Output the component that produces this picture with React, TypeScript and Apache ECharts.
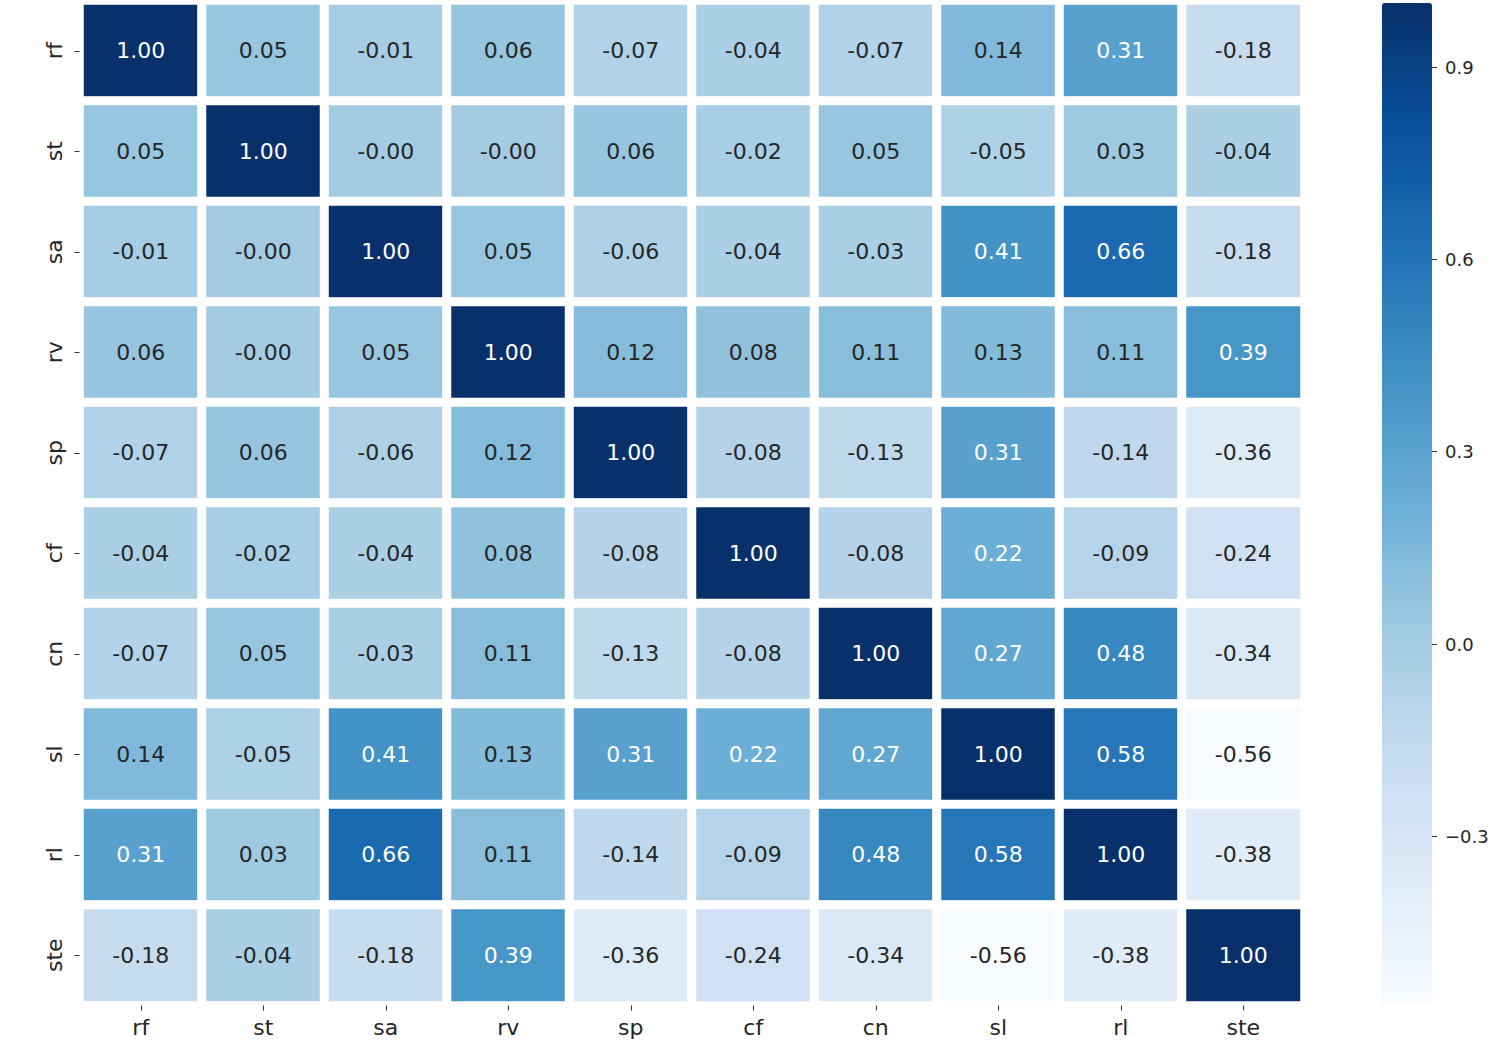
import React, { useEffect, useRef } from "react";
import * as echarts from "echarts";

// Variable names along both axes (top-to-bottom for rows, left-to-right for columns)
const variables = ["rf", "st", "sa", "rv", "sp", "cf", "cn", "sl", "rl", "ste"];

// Correlation matrix, one named row per variable (-0 keeps the "-0.00" sign)
const rowRf = [1.0, 0.05, -0.01, 0.06, -0.07, -0.04, -0.07, 0.14, 0.31, -0.18];
const rowSt = [0.05, 1.0, -0, -0, 0.06, -0.02, 0.05, -0.05, 0.03, -0.04];
const rowSa = [-0.01, -0, 1.0, 0.05, -0.06, -0.04, -0.03, 0.41, 0.66, -0.18];
const rowRv = [0.06, -0, 0.05, 1.0, 0.12, 0.08, 0.11, 0.13, 0.11, 0.39];
const rowSp = [-0.07, 0.06, -0.06, 0.12, 1.0, -0.08, -0.13, 0.31, -0.14, -0.36];
const rowCf = [-0.04, -0.02, -0.04, 0.08, -0.08, 1.0, -0.08, 0.22, -0.09, -0.24];
const rowCn = [-0.07, 0.05, -0.03, 0.11, -0.13, -0.08, 1.0, 0.27, 0.48, -0.34];
const rowSl = [0.14, -0.05, 0.41, 0.13, 0.31, 0.22, 0.27, 1.0, 0.58, -0.56];
const rowRl = [0.31, 0.03, 0.66, 0.11, -0.14, -0.09, 0.48, 0.58, 1.0, -0.38];
const rowSte = [-0.18, -0.04, -0.18, 0.39, -0.36, -0.24, -0.34, -0.56, -0.38, 1.0];

const matrix = [rowRf, rowSt, rowSa, rowRv, rowSp, rowCf, rowCn, rowSl, rowRl, rowSte];

// Colour bar tick values
const colorbarTicks = [-0.3, 0.0, 0.3, 0.6, 0.9];

// Matplotlib "Blues" colormap stops
const blues = [
  "#f7fbff", "#deebf7", "#c6dbef", "#9ecae1", "#6baed6",
  "#4292c6", "#2171b5", "#08519c", "#08306b",
];

const fmtCell = (v: number) => {
  const s = Math.abs(v).toFixed(2);
  return v < 0 || Object.is(v, -0) ? "-" + s : s;
};

const fmtTick = (v: number) => {
  const s = Math.abs(v).toFixed(1);
  return v < 0 ? "\u2212" + s : s;
};

export default function App() {
  const ref = useRef<HTMLDivElement>(null);

  useEffect(() => {
    if (!ref.current) return;
    const chart = echarts.init(ref.current, undefined, { renderer: "svg" });

    const flat = matrix.flat();
    const vMin = Math.min(...flat);
    const vMax = Math.max(...flat);

    const data: any[] = [];
    matrix.forEach((row, r) => {
      row.forEach((v, c) => {
        data.push({
          value: [c, r, v],
          label: { color: v > 0.2 ? "#ffffff" : "#262626" },
        });
      });
    });

    const tickStyle = { color: "#333333", width: 1 };

    chart.setOption({
      animation: false,
      backgroundColor: "#ffffff",
      textStyle: { fontFamily: "DejaVu Sans" },
      grid: [
        { left: 79.5, top: 0.5, width: 1225, height: 1005 },
        { left: 1382, top: 3, width: 50, height: 1000 },
      ],
      xAxis: [
        {
          type: "category",
          gridIndex: 0,
          data: variables,
          position: "bottom",
          z: 5,
          axisLine: { show: false },
          axisTick: { show: true, length: 5, alignWithLabel: true, lineStyle: tickStyle },
          axisLabel: { fontSize: 22, color: "#262626", margin: 11, fontFamily: "DejaVu Sans" },
          splitLine: { show: false },
        },
        { type: "value", gridIndex: 1, show: false, min: 0, max: 1 },
      ],
      yAxis: [
        {
          type: "category",
          gridIndex: 0,
          data: variables,
          inverse: true,
          z: 5,
          axisLine: { show: false },
          axisTick: { show: true, length: 5, alignWithLabel: true, lineStyle: tickStyle },
          axisLabel: { fontSize: 22, color: "#262626", rotate: 90, margin: 14, fontFamily: "DejaVu Sans" },
          splitLine: { show: false },
        },
        {
          type: "value",
          gridIndex: 1,
          position: "right",
          min: vMin,
          max: vMax,
          z: 5,
          axisLine: { show: false, onZero: false },
          splitLine: { show: false },
          axisTick: {
            show: true,
            inside: false,
            length: 5,
            customValues: colorbarTicks,
            lineStyle: tickStyle,
          },
          axisLabel: {
            show: true,
            inside: false,
            customValues: colorbarTicks,
            formatter: (v: number) => fmtTick(v),
            fontSize: 18,
            color: "#262626",
            margin: 13,
            fontFamily: "DejaVu Sans",
          },
        },
      ],
      visualMap: {
        type: "continuous",
        min: vMin,
        max: vMax,
        seriesIndex: 0,
        calculable: false,
        orient: "vertical",
        left: 1382,
        top: 3,
        itemWidth: 50,
        itemHeight: 1000,
        padding: 0,
        text: ["", ""],
        showLabel: false,
        hoverLink: false,
        inRange: { color: blues },
      },
      series: [
        {
          type: "heatmap",
          xAxisIndex: 0,
          yAxisIndex: 0,
          data,
          itemStyle: { borderColor: "#ffffff", borderWidth: 9 },
          label: {
            show: true,
            fontSize: 22,
            fontFamily: "DejaVu Sans",
            formatter: (p: any) => fmtCell(p.value[2]),
          },
          emphasis: { disabled: true },
        },
      ],
    });

    return () => chart.dispose();
  }, []);

  return (
    <div
      ref={ref}
      style={{ position: "fixed", left: 0, top: 0, width: 1506, height: 1048 }}
    />
  );
}
